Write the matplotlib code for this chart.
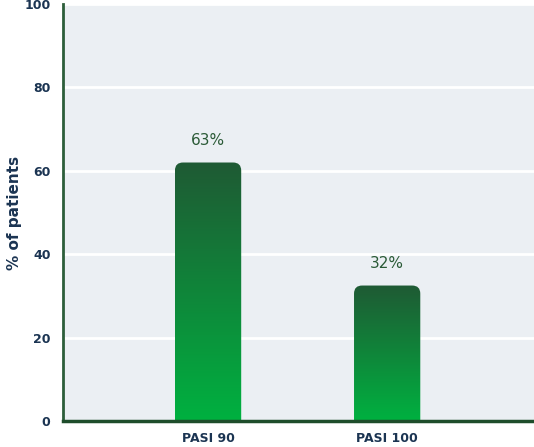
import numpy as np
import matplotlib.pyplot as plt
from matplotlib.patches import FancyBboxPatch
from matplotlib.colors import LinearSegmentedColormap

categories = ["PASI 90", "PASI 100"]
values = [62, 32.5]
value_labels = ["63%", "32%"]

NAVY = "#1b3452"
DARK_GREEN = "#2a5a36"
cmap = LinearSegmentedColormap.from_list("bar", ["#00b140", "#1f5a34"])

fig = plt.figure(figsize=(5.34, 4.47), dpi=100)
ax = fig.add_axes([0.118, 0.058, 0.882, 0.933])
ax.set_facecolor("#ebeff3")

ax.set_xlim(-0.81, 1.82)
ax.set_ylim(0, 100)

bar_w = 0.37
aspect = (100 / (0.933 * 447)) / (2.63 / (0.882 * 534))
grad = np.linspace(0, 1, 256).reshape(-1, 1)

for i, v in enumerate(values):
    x0 = i - bar_w / 2
    clip = FancyBboxPatch((x0, -5), bar_w, v + 5,
                          boxstyle="round,pad=0,rounding_size=0.045",
                          mutation_aspect=aspect, transform=ax.transData,
                          facecolor="none", edgecolor="none")
    ax.add_patch(clip)
    im = ax.imshow(grad, cmap=cmap, origin="lower", aspect="auto",
                   extent=(x0, x0 + bar_w, 0, v), zorder=2)
    im.set_clip_path(clip)
    ax.text(i, v + 3.5, value_labels[i], ha="center", va="bottom",
            fontsize=11, color=DARK_GREEN)

ax.set_xlim(-0.81, 1.82)
ax.set_ylim(0, 100)
ax.set_aspect("auto")

ax.set_yticks([0, 20, 40, 60, 80, 100])
ax.set_xticks(range(len(categories)))
ax.set_xticklabels(categories)
ax.tick_params(length=0, labelsize=9, labelcolor=NAVY, pad=8)
ax.tick_params(axis="y", pad=9)
for lab in ax.get_xticklabels() + ax.get_yticklabels():
    lab.set_fontweight("bold")

ax.grid(axis="y", color="white", linewidth=2)
ax.set_axisbelow(True)

for s in ["top", "right"]:
    ax.spines[s].set_visible(False)
ax.spines["left"].set_color("#2d5e3a")
ax.spines["left"].set_linewidth(2)
ax.spines["bottom"].set_color("#1e4d2b")
ax.spines["bottom"].set_linewidth(2.5)

ax.set_ylabel("% of patients", fontsize=11, fontweight="bold", color=NAVY)
ax.yaxis.set_label_coords(-0.102, 0.5)
ax.yaxis.label.set_va("center")

fig.savefig("out.png", dpi=100, facecolor="white")
